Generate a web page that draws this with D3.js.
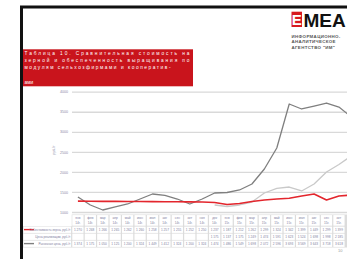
<!DOCTYPE html>
<html><head><meta charset="utf-8">
<script src="https://cdn.jsdelivr.net/npm/d3@7"></script>
<style>
html,body{margin:0;padding:0;background:#fff;overflow:hidden}
svg{display:block;font-family:"Liberation Sans",Arial,sans-serif}
</style></head>
<body><svg id="c" width="347" height="259"></svg>
<script>
// ---- data ----
const categories = ["янв 14","фев 14","мар 14","апр 14","май 14","июн 14","июл 14","авг 14","сен 14","окт 14","ноя 14","дек 14",
  "янв 15","фев 15","мар 15","апр 15","май 15","июн 15","июл 15","авг 15","сен 15","окт 15","ноя 15"];
const seriesNames = ["Себестоимость зерна, руб./т","Цена реализации, руб./т","Рыночная цена, руб./т"];
const redValues = [1270,1268,1266,1265,1262,1260,1258,1257,1255,1252,1250,1237,1187,1212,1262,1299,1324,1342,1399,1449,1299,1399,1424];
const lightValues = [null,null,null,null,null,null,null,null,null,null,null,1175,1137,1175,1249,1474,1591,1623,1524,1698,1998,2185,2400];
const darkValues = [1374,1175,1050,1125,1200,1324,1449,1412,1324,1200,1324,1474,1486,1549,1698,2072,2596,3693,3569,3643,3718,3618,3369];
const yTicks = [1000,1500,2000,2500,3000,3500,4000];
const yTitle = "руб./т";
const titleLines = ["Таблица 10. Сравнительная стоимость на","зерной и обеспеченность выращивания по","модулям сельхозфирмами и кооператив-","ами"];
const logoLines = ["ИНФОРМАЦИОННО-","АНАЛИТИЧЕСКОЕ","АГЕНТСТВО \"ИМ\""];
const visibleCols = 22;

const svg = d3.select("#c");
const colors = ["#e3262d","#c9c9c9","#7f7f7f"];
const series = [redValues, lightValues, darkValues];

// frame
svg.append("rect").attr("x",21.5).attr("y",7).attr("width",360).attr("height",270)
  .attr("fill","none").attr("stroke","#111").attr("stroke-width",3);

// logo
svg.append("rect").attr("x",291.5).attr("y",11.7).attr("width",10.5).attr("height",15.3).attr("fill","#d7191f");
svg.append("text").attr("x",296.8).attr("y",25).attr("text-anchor","middle").attr("fill","#fff")
  .attr("font-size",15).attr("font-weight","bold").text("E");
svg.append("text").attr("x",303.5).attr("y",26.5).attr("fill","#111").attr("font-size",19)
  .attr("font-weight","bold").text("МЕА");
svg.selectAll("text.logo").data(logoLines).join("text").attr("class","logo")
  .attr("x",291.5).attr("y",(d,i)=>38+i*5.4).attr("font-size",4.4).attr("font-weight","bold")
  .attr("letter-spacing",0.35).attr("fill","#555").text(d=>d);

// title box
svg.append("rect").attr("x",23).attr("y",49.3).attr("width",170).attr("height",37).attr("fill","#c9141c");
const tY = [54.6,61.8,68.6,84];
svg.selectAll("text.title").data(titleLines).join("text").attr("class","title")
  .attr("x",24.5).attr("y",(d,i)=>tY[i]).attr("fill","#fff").attr("font-size",4.8)
  .attr("textLength",(d,i)=>i<2?165:(i==2?146:null)).attr("lengthAdjust","spacing")
  .text(d=>d);

// scales
const step = 12.43;
const x = d3.scaleBand().domain(categories).range([71.7, 71.7+step*categories.length]).padding(0);
const y = d3.scaleLinear().domain([1000,4000]).range([212,91.7]);

// gridlines + axis
const ax = svg.append("g").attr("transform","translate(72,0)")
  .call(d3.axisLeft(y).tickValues(yTicks).tickSize(-300).tickFormat(d3.format("d")).tickPadding(4));
ax.select(".domain").remove();
ax.selectAll(".tick line").attr("stroke","#d9d9d9").attr("stroke-width",1.3);
ax.selectAll(".tick text").attr("fill","#8a8aa6").attr("font-size",3.6).attr("font-family","Liberation Sans");

svg.append("text").attr("transform","translate(55,150) rotate(-90)").attr("text-anchor","middle")
  .attr("font-size",3.6).attr("fill","#8a8aa6").text(yTitle);

// lines
const line = d3.line().defined(d=>d.v!=null).x(d=>x(d.c)+x.bandwidth()/2).y(d=>y(d.v));
[1,2,0].forEach(k=>{
  svg.append("path").datum(categories.map((c,i)=>({c,v:series[k][i]})))
    .attr("d",line).attr("fill","none").attr("stroke",colors[k])
    .attr("stroke-width",k==0?1.6:1.3).attr("stroke-linejoin","round");
});

// table
const tbl = svg.append("g");
const fmt = v => v==null ? "" : d3.format(",")(v).replace(/,/g," ");
tbl.append("rect").attr("x",71.7).attr("y",214.5).attr("width",300).attr("height",33).attr("fill","#dcdcdc");
tbl.append("rect").attr("x",23).attr("y",226.2).attr("width",49).attr("height",21.3).attr("fill","#dcdcdc");
const rowY = [226.6,233.6,240.6];
const rowH = 6.3;
const cols = categories.slice(0, visibleCols);
cols.forEach(c=>{
  const cx = x(c);
  tbl.append("rect").attr("x",cx+0.6).attr("y",215.1).attr("width",step-1.2).attr("height",10.6).attr("fill","#fff");
  const parts = c.split(" ");
  tbl.append("text").attr("x",cx+step/2).attr("y",219.4).attr("text-anchor","middle").attr("font-size",3.2).attr("fill","#8080a0").text(parts[0]);
  tbl.append("text").attr("x",cx+step/2).attr("y",223.8).attr("text-anchor","middle").attr("font-size",3.2).attr("fill","#8080a0").text(parts[1]+"г.");
});
series.forEach((s,r)=>{
  tbl.append("rect").attr("x",23.5).attr("y",rowY[r]).attr("width",47.6).attr("height",rowH).attr("fill","#fff");
  tbl.append("line").attr("x1",24).attr("x2",34).attr("y1",rowY[r]+3).attr("y2",rowY[r]+3)
    .attr("stroke",r==1?"#fff":colors[r]).attr("stroke-width",1.4);
  tbl.append("text").attr("x",70.5).attr("y",rowY[r]+4.3).attr("text-anchor","end").attr("font-size",3.1)
    .attr("fill","#8080a0").text(seriesNames[r]);
  cols.forEach((c,i)=>{
    const cx = x(c);
    tbl.append("rect").attr("x",cx+0.6).attr("y",rowY[r]).attr("width",step-1.2).attr("height",rowH).attr("fill","#fff");
    tbl.append("text").attr("x",cx+step/2).attr("y",rowY[r]+4.3).attr("text-anchor","middle").attr("font-size",3.2)
      .attr("fill","#8080a0").text(fmt(s[i]));
  });
});

// page number
svg.append("text").attr("x",338).attr("y",252).attr("font-size",4).attr("fill","#999").text("10");
</script></body></html>
